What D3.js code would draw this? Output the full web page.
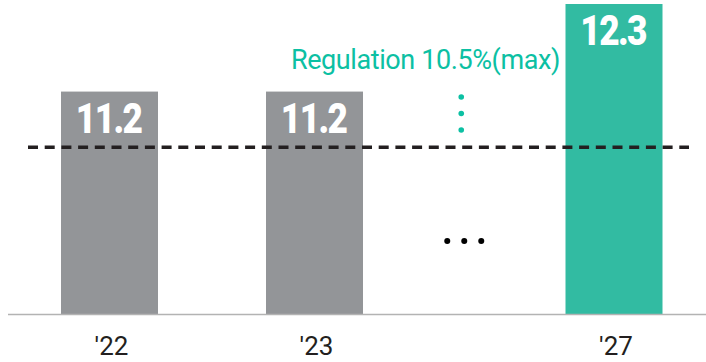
<!DOCTYPE html>
<html>
<head>
<meta charset="utf-8">
<script src="https://cdn.jsdelivr.net/npm/d3@7"></script>
<style>
  html, body { margin: 0; padding: 0; background: #fff; }
  svg { display: block; }
</style>
</head>
<body>
<svg id="chart" width="706" height="362"></svg>
<script>
// Data
const categories = ["'22", "'23", "'27"];
const years = [22, 23, 27];
const values = [11.2, 11.2, 12.3];
const valueLabels = ["11.2", "11.2", "12.3"];
const regulationValue = 10.5;
const regulationLabel = "Regulation 10.5%(max)";

const W = 706, H = 362;
const baseY = 314.5;
const svg = d3.select("#chart");

// Years 24–26 are compressed into a break between '23 and '27
const x = d3.scaleLinear().domain([22, 23, 27]).range([109.5, 314.5, 614]);
const barW = 97;

// Value axis does not start at zero
const y = d3.scaleLinear().domain([8.4, 12.3]).range([baseY, 4]);

const GRAY = "#939598", TEAL = "#32bba2", TEAL_TEXT = "#0cc0a3", INK = "#231f20";

// Bars
svg.append("g").selectAll("rect")
  .data(values)
  .join("rect")
  .attr("x", (d, i) => x(years[i]) - barW / 2)
  .attr("y", d => y(d))
  .attr("width", barW)
  .attr("height", d => baseY - y(d))
  .attr("fill", (d, i) => i === values.length - 1 ? TEAL : GRAY);

// Value labels inside bars, narrowed horizontally for a condensed look
svg.append("g").selectAll("text")
  .data(values)
  .join("text")
  .attr("transform", (d, i) => `translate(${x(years[i]) - 1},${y(d) + 41}) scale(0.84,1)`)
  .attr("text-anchor", "middle")
  .attr("fill", "#fff")
  .attr("font-family", "Roboto, 'Liberation Sans', sans-serif")
  .attr("font-weight", 900)
  .attr("font-size", 42)
  .attr("letter-spacing", -2)
  .text((d, i) => valueLabels[i]);

// Baseline
svg.append("line")
  .attr("x1", 8).attr("x2", W)
  .attr("y1", baseY).attr("y2", baseY)
  .attr("stroke", "#b3b3b3").attr("stroke-width", 1.5);

// Regulation limit line
svg.append("line")
  .attr("x1", 28).attr("x2", 689)
  .attr("y1", y(regulationValue)).attr("y2", y(regulationValue))
  .attr("stroke", INK).attr("stroke-width", 3.5)
  .attr("stroke-dasharray", "10,6.7");

// Regulation label with leader dots
svg.append("text")
  .attr("x", 560).attr("y", 69)
  .attr("text-anchor", "end")
  .attr("fill", TEAL_TEXT)
  .attr("font-family", "Roboto, sans-serif")
  .attr("font-size", 27)
  .attr("letter-spacing", -0.4)
  .text(regulationLabel);

const gapX = x(25);
svg.append("g").selectAll("circle")
  .data([0, 1, 2])
  .join("circle")
  .attr("cx", gapX - 3)
  .attr("cy", d => 97 + d * 16.5)
  .attr("r", 2.8)
  .attr("fill", TEAL_TEXT);

// Break marker between '23 and '27
svg.append("g").selectAll("circle")
  .data([-1, 0, 1])
  .join("circle")
  .attr("cx", d => gapX + d * 17)
  .attr("cy", 241)
  .attr("r", 3)
  .attr("fill", "#000");

// Category labels
svg.append("g").selectAll("text")
  .data(categories)
  .join("text")
  .attr("x", (d, i) => x(years[i]) + 2)
  .attr("y", 355)
  .attr("text-anchor", "middle")
  .attr("fill", INK)
  .attr("font-family", "Roboto, sans-serif")
  .attr("font-size", 26)
  .text(d => d);
</script>
</body>
</html>
